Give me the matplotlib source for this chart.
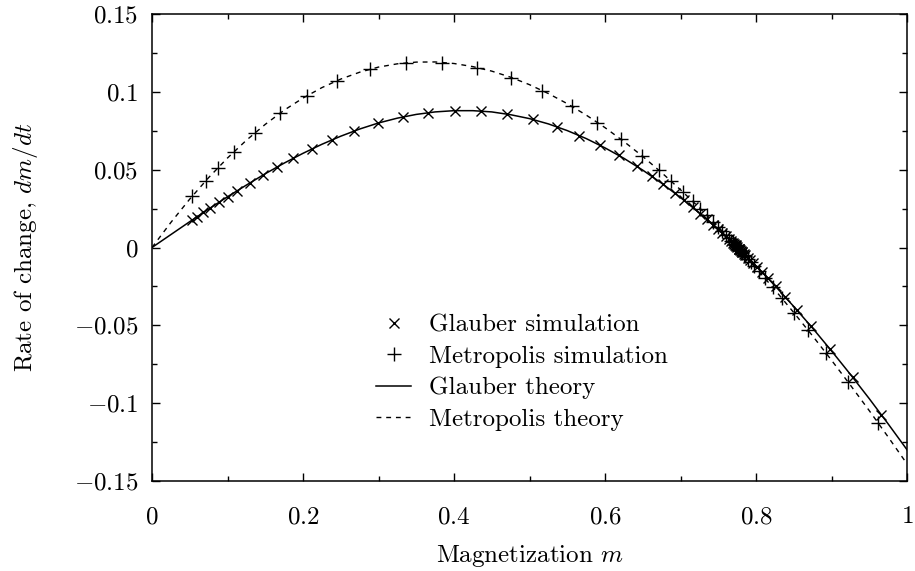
import matplotlib
matplotlib.use("Agg")
import matplotlib.pyplot as plt
from matplotlib.ticker import FixedLocator, MultipleLocator

plt.rcParams["font.family"] = "serif"
plt.rcParams["font.serif"] = ["cmr10"]
plt.rcParams["mathtext.fontset"] = "cm"
plt.rcParams["axes.formatter.use_mathtext"] = True

# ── Theory curves (dm/dt vs m) ─────────────────────────────────────────────
m_theory = [0.0, 0.025, 0.05, 0.075, 0.1, 0.125, 0.15, 0.175, 0.2, 0.225,
            0.25, 0.275, 0.3, 0.325, 0.35, 0.375, 0.4, 0.425, 0.45, 0.475,
            0.5, 0.525, 0.55, 0.575, 0.6, 0.625, 0.65, 0.675, 0.7, 0.725,
            0.75, 0.775, 0.8, 0.825, 0.85, 0.875, 0.9, 0.925, 0.95, 0.975, 1.0]
glauber_theory = [0.0, 0.0083, 0.0166, 0.0247, 0.0326, 0.0401, 0.0474, 0.0542,
                  0.0605, 0.0663, 0.0715, 0.0761, 0.0800, 0.0831, 0.0855, 0.0871,
                  0.0879, 0.0879, 0.0871, 0.0853, 0.0828, 0.0794, 0.0751, 0.0700,
                  0.0640, 0.0573, 0.0497, 0.0413, 0.0321, 0.0222, 0.0116, 0.0002,
                  -0.0118, -0.0245, -0.0379, -0.0518, -0.0664, -0.0815, -0.0971,
                  -0.1133, -0.1299]
metropolis_theory = [0.0, 0.0161, 0.0311, 0.0449, 0.0575, 0.0689, 0.0791, 0.0882,
                     0.0960, 0.1027, 0.1082, 0.1126, 0.1159, 0.1180, 0.1191, 0.1192,
                     0.1182, 0.1162, 0.1133, 0.1094, 0.1046, 0.0989, 0.0924, 0.0851,
                     0.0770, 0.0681, 0.0585, 0.0481, 0.0371, 0.0255, 0.0132, 0.0003,
                     -0.0132, -0.0272, -0.0418, -0.0568, -0.0724, -0.0884, -0.1048,
                     -0.1217, -0.1390]

# ── Glauber simulation (runs from small m and from m = 1) ─────────────────
glauber_m = [0.053, 0.060, 0.068, 0.077, 0.089, 0.100, 0.112, 0.130, 0.147, 0.166,
             0.187, 0.212, 0.239, 0.268, 0.299, 0.332, 0.366, 0.401, 0.436, 0.470,
             0.504, 0.537, 0.566, 0.593, 0.618, 0.642, 0.662, 0.677, 0.693, 0.704,
             0.716, 0.726, 0.735, 0.743, 0.750, 0.755, 0.760, 0.764, 0.767, 0.769,
             0.771, 0.772, 0.773, 0.774, 0.775,
             0.966, 0.928, 0.898, 0.873, 0.854, 0.838, 0.826, 0.816, 0.808, 0.801,
             0.796, 0.792, 0.789, 0.786, 0.784, 0.782, 0.781, 0.780, 0.779, 0.778,
             0.7775, 0.777]
glauber_rate = [0.0176, 0.0199, 0.0225, 0.0253, 0.0291, 0.0326, 0.0362, 0.0416,
                0.0465, 0.0518, 0.0573, 0.0635, 0.0692, 0.0748, 0.0798, 0.0838,
                0.0865, 0.0879, 0.0876, 0.0857, 0.0823, 0.0773, 0.0718, 0.0657,
                0.0592, 0.0521, 0.0457, 0.0406, 0.0347, 0.0306, 0.0258, 0.0218,
                0.0180, 0.0146, 0.0116, 0.0094, 0.0072, 0.0054, 0.0041, 0.0032,
                0.0023, 0.0018, 0.0014, 0.0009, 0.0005,
                -0.1075, -0.0834, -0.0652, -0.0507, -0.0401, -0.0315, -0.0250,
                -0.0199, -0.0159, -0.0123, -0.0099, -0.0080, -0.0065, -0.0051,
                -0.0041, -0.0032, -0.0027, -0.0022, -0.0017, -0.0012, -0.0010,
                -0.0007]

# ── Metropolis simulation ──────────────────────────────────────────────────
metro_m = [0.053, 0.071, 0.087, 0.109, 0.136, 0.170, 0.205, 0.245, 0.289, 0.336,
           0.384, 0.431, 0.476, 0.517, 0.556, 0.590, 0.621, 0.649, 0.671, 0.687,
           0.703, 0.716, 0.726, 0.735, 0.743, 0.750, 0.755, 0.760, 0.764, 0.767,
           0.769, 0.771, 0.772, 0.773, 0.774, 0.775,
           0.962, 0.922, 0.893, 0.869, 0.850, 0.834, 0.822, 0.812, 0.804, 0.798,
           0.793, 0.789, 0.786, 0.784, 0.782, 0.781, 0.780, 0.779, 0.778, 0.7775,
           0.777]
metro_rate = [0.0328, 0.0427, 0.0509, 0.0616, 0.0734, 0.0864, 0.0973, 0.1071,
              0.1144, 0.1185, 0.1188, 0.1155, 0.1092, 0.1007, 0.0906, 0.0802,
              0.0695, 0.0589, 0.0498, 0.0428, 0.0357, 0.0297, 0.0250, 0.0206,
              0.0166, 0.0132, 0.0106, 0.0080, 0.0059, 0.0044, 0.0034, 0.0023,
              0.0018, 0.0013, 0.0008, 0.0003,
              -0.1129, -0.0865, -0.0680, -0.0532, -0.0418, -0.0325, -0.0255,
              -0.0199, -0.0154, -0.0121, -0.0094, -0.0073, -0.0056, -0.0045,
              -0.0034, -0.0029, -0.0023, -0.0018, -0.0013, -0.0011, -0.0008]

x_ticks = [0, 0.2, 0.4, 0.6, 0.8, 1.0]
x_labels = ["$0$", "$0.2$", "$0.4$", "$0.6$", "$0.8$", "$1$"]
y_ticks = [-0.15, -0.1, -0.05, 0, 0.05, 0.1, 0.15]
y_labels = ["$-0.15$", "$-0.1$", "$-0.05$", "$0$", "$0.05$", "$0.1$", "$0.15$"]

FS = 18

# ── Plot ───────────────────────────────────────────────────────────────────
fig = plt.figure(figsize=(9.15, 5.71), dpi=100)
ax = fig.add_axes([152 / 915, 1 - 481 / 571, 755 / 915, 467 / 571])

ax.plot(glauber_m, glauber_rate, linestyle="none", marker="x", color="black",
        markersize=7.5, markeredgewidth=1.0, label="Glauber simulation")
ax.plot(metro_m, metro_rate, linestyle="none", marker="+", color="black",
        markersize=10, markeredgewidth=1.0, label="Metropolis simulation")
ax.plot(m_theory, glauber_theory, color="black", linewidth=1.1,
        label="Glauber theory")
ax.plot(m_theory, metropolis_theory, color="black", linewidth=1.0,
        dashes=(3.5, 3.5), label="Metropolis theory")

ax.set_xlim(0, 1)
ax.set_ylim(-0.15, 0.15)
ax.xaxis.set_major_locator(FixedLocator(x_ticks))
ax.set_xticklabels(x_labels)
ax.yaxis.set_major_locator(FixedLocator(y_ticks))
ax.set_yticklabels(y_labels)
ax.xaxis.set_minor_locator(MultipleLocator(0.1))
ax.yaxis.set_minor_locator(MultipleLocator(0.025))
ax.tick_params(which="both", direction="in", top=True, right=True,
               labelsize=FS, width=1.0)
ax.tick_params(axis="x", which="major", length=6, pad=18)
ax.tick_params(axis="y", which="major", length=6, pad=10)
ax.tick_params(which="minor", length=3.5)
for s in ax.spines.values():
    s.set_linewidth(1.1)

ax.set_xlabel("Magnetization $m$", fontsize=FS, labelpad=11)
ax.set_ylabel("Rate of change, $dm/dt$", fontsize=FS, labelpad=24)

ax.legend(loc="upper left", bbox_to_anchor=(0.297, 0.357), frameon=False,
          fontsize=FS, handlelength=1.4, handletextpad=0.73, labelspacing=0.35,
          borderaxespad=0, borderpad=0)

fig.savefig("out.png", dpi=100)
